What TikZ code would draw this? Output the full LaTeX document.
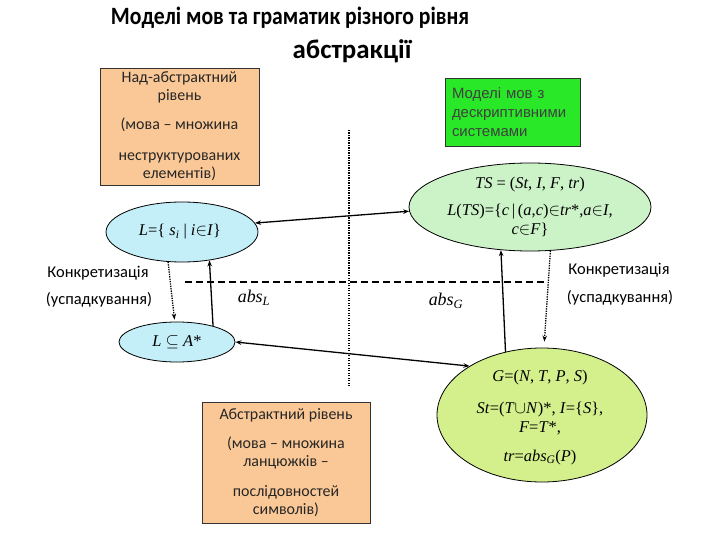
\documentclass[tikz,border=0pt]{standalone}
\usepackage{fontspec}
\setmainfont{Carlito}
\newfontfamily\tms{Liberation Serif}
\newfontfamily\ars{Liberation Sans}
\usetikzlibrary{shapes.geometric,arrows.meta}

\definecolor{peach}{RGB}{250,200,150}
\definecolor{brightgreen}{RGB}{40,232,40}
\definecolor{mint}{RGB}{204,242,200}
\definecolor{skyc}{RGB}{196,238,248}
\definecolor{lime}{RGB}{212,240,140}

\begin{document}
\begin{tikzpicture}[x=1bp,y=-1bp,
 obox/.style={draw=black!80, line width=0.8bp, fill=peach, align=center, inner sep=0pt, font=\fontsize{16}{18}\selectfont, text=black!85},
 gbox/.style={draw=black!80, line width=0.8bp, fill=brightgreen, align=left, inner xsep=7bp, font=\ars\fontsize{15}{19}\selectfont, text=black!75},
 ell/.style={ellipse, draw=black, line width=0.8bp, inner sep=0pt},
 mtxt/.style={font=\tms\fontsize{16.5}{19.5}\selectfont, align=center},
 lbl/.style={font=\fontsize{16.5}{18}\selectfont},
 ttl/.style={font=\bfseries\fontsize{25}{28}\selectfont},
 arr/.style={line width=1.3bp, -{Stealth[length=6bp,width=4.5bp]}},
 darr/.style={line width=1.3bp, {Stealth[length=6bp,width=4.5bp]}-{Stealth[length=6bp,width=4.5bp]}},
 dotarr/.style={line width=1.3bp, dash pattern=on 1.3bp off 1.1bp, -{Stealth[length=6bp,width=4.5bp]}},
]
\useasboundingbox (0,0) rectangle (720,540);

% title
\node[ttl] (t1) at (290,18) {\scalebox{0.87}[1]{Моделі мов та граматик різного рівня}};
\node[ttl, font=\bfseries\fontsize{27}{30}\selectfont] (t2) at (352,51) {абстракції};

% boxes
\node[obox, minimum width=159bp, minimum height=117bp] (B1) at (179.5,126.5)
  {Над-абстрактний\\рівень\\[11bp](мова – множина\\[13bp]неструктурованих\\елементів)};
\node[gbox, minimum width=135bp, minimum height=68bp, text width=121bp] (GB) at (512.5,112)
  {Моделі мов з\\дескриптивними\\системами};
\node[obox, minimum width=168bp, minimum height=121bp] (B2) at (286,462.5)
  {Абстрактний рівень\\[11.5bp](мова – множина\\ланцюжків –\\[11.5bp]послідовностей\\символів)};

% ellipses
\node[ell, fill=mint, minimum width=242bp, minimum height=88bp] (TS) at (530,207) {};
\node[mtxt] (tstxt) at (530,207)
  {\textit{TS} = (\textit{St}, \textit{I}, \textit{F}, \textit{tr})\\[7bp]\textit{L}(\textit{TS})=\{\textit{c}\,|\,(\textit{a},\textit{c})$\in$\textit{tr}*,\textit{a}$\in$\textit{I},\\\textit{c}$\in$\textit{F}\}};

\node[ell, fill=skyc, minimum width=152bp, minimum height=60bp] (L) at (182,232) {};
\node[mtxt] (ltxt) at (180,232) {\textit{L}=\{ \textit{s}\textsubscript{\textit{i}}\ |\ \textit{i}$\in$\textit{I}\}};

\node[ell, fill=skyc, minimum width=116bp, minimum height=40bp] (LA) at (177,342) {};
\node[mtxt] (latxt) at (177,342) {\textit{L} $\subseteq$ \textit{A}*};

\node[ell, fill=lime, minimum width=210bp, minimum height=134bp] (G) at (542,415) {};
\node[mtxt] (gtxt) at (540,417.5)
  {\textit{G}=(\textit{N}, \textit{T}, \textit{P}, \textit{S})\\[12bp]\textit{St}=(\textit{T}$\cup$\textit{N})*, \textit{I}=\{\textit{S}\},\\\textit{F}=\textit{T}*,\\[9bp]\textit{tr}=\textit{abs}\textsubscript{\textit{G}}(\textit{P})};

% separator lines
\coordinate (vt) at (349,130);
\coordinate (vb) at (349,387);
\draw[line width=1.8bp, dash pattern=on 1.3bp off 1.2bp] (vt) -- (vb);
\coordinate (dl) at (185,282);
\coordinate (dr) at (547,282);
\draw[line width=2bp, dash pattern=on 7bp off 4bp] (dl) -- (dr);

% arrows
\draw[darr] (L.7) -- (TS.182);
\draw[darr] (LA.east) -- (G.146);
\draw[dotarr] (L.-115) -- ([yshift=2bp]LA.97);
\draw[arr] (LA.24) -- (L.-46);
\draw[arr] (G.120) -- (TS.-124);
\draw[dotarr] (TS.-65) -- ([yshift=6bp]G.88);

% labels
\node[lbl] (k1) at (98,273) {Конкретизація};
\node[lbl] (u1) at (99,300) {(успадкування)};
\node[lbl] (k2) at (619,270) {Конкретизація};
\node[lbl] (u2) at (620,298) {(успадкування)};
\node[font=\tms\fontsize{18}{20}\selectfont] (absL) at (254,298) {\textit{abs}\textsubscript{\textit{L}}};
\node[font=\tms\fontsize{18}{20}\selectfont] (absG) at (446,301) {\textit{abs}\textsubscript{\textit{G}}};
\end{tikzpicture}
\end{document}
